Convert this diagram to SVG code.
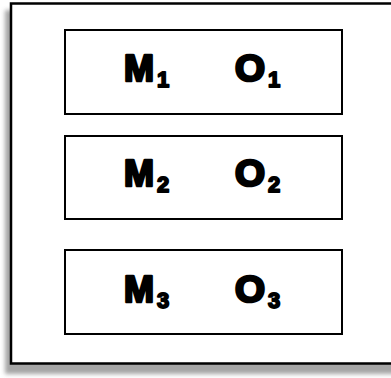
<svg xmlns="http://www.w3.org/2000/svg" width="391" height="378" viewBox="0 0 391 378">
<defs>
<filter id="sh" x="-10%" y="-10%" width="120%" height="120%"><feGaussianBlur stdDeviation="2"/></filter>
<style>
.box{fill:#fff;stroke:#000;stroke-width:2}
.t{font-family:"Liberation Sans",Arial,sans-serif;font-weight:bold;font-size:36px;fill:#000;stroke:#000;stroke-width:2.6;stroke-linejoin:round}
.s{font-family:"Liberation Sans",Arial,sans-serif;font-weight:bold;font-size:22px;fill:#000;stroke:#000;stroke-width:1.8;stroke-linejoin:round}
</style>
</defs>
<rect width="391" height="378" fill="#fff"/>
<g id="frame">
<rect x="5" y="10" width="420" height="364" fill="#8f8f8f" opacity="0.8" filter="url(#sh)"/>
<rect x="11" y="3.5" width="420" height="360" fill="#fff" stroke="#000" stroke-width="2.5"/>
</g>
<g id="row1">
<rect class="box" x="65" y="30" width="277" height="84"/>
<text class="t" x="124" y="80.5">M</text><text class="s" x="157" y="86.5">1</text>
<text class="t" x="235" y="80.5" textLength="30" lengthAdjust="spacingAndGlyphs">O</text><text class="s" x="268" y="86.5">1</text>
</g>
<g id="row2">
<rect class="box" x="65" y="136" width="277" height="83"/>
<text class="t" x="124" y="185.5">M</text><text class="s" x="157" y="191.5">2</text>
<text class="t" x="235" y="185.5" textLength="30" lengthAdjust="spacingAndGlyphs">O</text><text class="s" x="268" y="191.5">2</text>
</g>
<g id="row3">
<rect class="box" x="65" y="250" width="277" height="84"/>
<text class="t" x="124" y="301.5">M</text><text class="s" x="157" y="307.5">3</text>
<text class="t" x="235" y="301.5" textLength="30" lengthAdjust="spacingAndGlyphs">O</text><text class="s" x="268" y="307.5">3</text>
</g>
<g id="connectors"/>
</svg>
